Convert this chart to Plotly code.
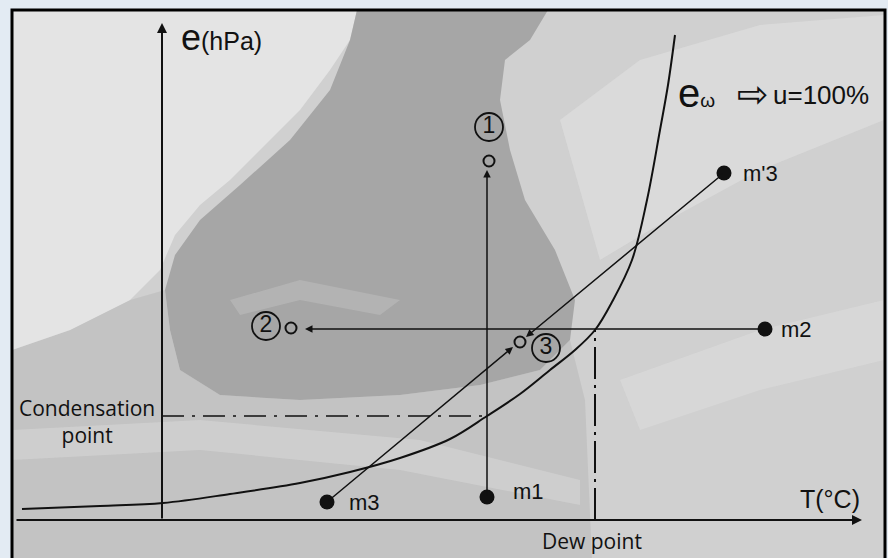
import plotly.graph_objects as go

# Saturation vapour pressure curve e_w (T, e) in diagram units (origin at axes crossing)
curve_T = [-140, -62, 1, 68, 138, 188, 238, 288, 325, 358, 388, 413, 433, 450, 470, 485, 498, 506, 513]
curve_e = [11, 14, 17, 26, 37, 48, 62, 81, 104, 126, 150, 170, 190, 218, 260, 320, 390, 435, 485]

# Air-mass states (filled dots)
state_names = ["m1", "m2", "m'3", "m3"]
state_T = [325, 603, 562, 165]
state_e = [23, 191, 347, 18]

# End states (open circles) and their circled labels
end_names = ["1", "2", "3"]
end_T = [327, 129, 358]
end_e = [359, 192, 178]
badge_T = [327, 104, 384]
badge_e = [393, 194, 172]

# Reference levels
condensation_e = 104
dew_T = 433
dew_e = 191

BLACK = "#111111"
FONT = "Liberation Sans, Arial, sans-serif"
HUM = "Open Sans, Noto Sans, sans-serif"

fig = go.Figure()

# ---- background (imitation of satellite picture) ----
shapes = []
X0, X1 = -150, 723   # frame in data units
Y0, Y1 = -40, 510
def px(x, y):
    return (x - 162, 520 - y)
def poly(points, color, opacity=1.0):
    pts = [px(x, y) for x, y in points]
    path = "M " + " L ".join(f"{a},{b}" for a, b in pts) + " Z"
    return dict(type="path", path=path, fillcolor=color, line=dict(width=0),
                layer="below", opacity=opacity)

shapes.append(dict(type="rect", x0=X0, x1=X1, y0=Y0, y1=Y1, fillcolor="#d0d0d0",
                   line=dict(width=0), layer="below"))
shapes.append(poly([(12, 350), (70, 330), (130, 300), (165, 290), (170, 330), (180, 370),
                    (220, 395), (300, 400), (400, 395), (480, 385), (540, 370), (570, 340),
                    (585, 400), (592, 560), (12, 560)], "#c3c3c3"))
shapes.append(poly([(12, 10), (357, 10), (350, 40), (330, 70), (300, 110), (270, 140),
                    (230, 180), (200, 205), (175, 235), (160, 270), (130, 300), (70, 330),
                    (12, 350)], "#e4e4e4"))
shapes.append(poly([(357, 10), (548, 10), (530, 40), (505, 60), (500, 100), (510, 150),
                    (525, 200), (555, 250), (575, 300), (570, 340), (540, 370), (480, 385),
                    (400, 395), (300, 400), (220, 395), (180, 370), (170, 330), (165, 290),
                    (175, 255), (200, 220), (240, 185), (290, 140), (330, 90), (350, 40)],
                   "#a6a6a6"))
shapes.append(poly([(560, 120), (640, 60), (760, 25), (884, 15), (884, 120), (760, 170),
                    (650, 230), (600, 260)], "#e2e2e2", 0.55))
shapes.append(poly([(620, 380), (760, 330), (884, 300), (884, 360), (760, 390), (640, 430)],
                   "#e0e0e0", 0.45))
shapes.append(poly([(12, 430), (200, 420), (420, 440), (580, 480), (580, 505), (400, 470),
                    (200, 450), (12, 460)], "#dadada", 0.5))
shapes.append(poly([(230, 300), (300, 280), (400, 300), (380, 315), (300, 300), (240, 315)],
                   "#bcbcbc", 0.6))
shapes.append(dict(type="rect", x0=X0, x1=X1, y0=Y0, y1=Y1, fillcolor="rgba(0,0,0,0)",
                   line=dict(color="#000000", width=3), layer="above"))

# condensation and dew point guide lines
fig.add_trace(go.Scatter(x=[0, state_T[0]], y=[condensation_e, condensation_e], mode="lines",
                         line=dict(color=BLACK, width=1.5, dash="22px,8px,3px,8px"),
                         hoverinfo="skip", showlegend=False))
fig.add_trace(go.Scatter(x=[dew_T, dew_T], y=[0, dew_e], mode="lines",
                         line=dict(color=BLACK, width=2, dash="32px,6px,3px,6px"),
                         hoverinfo="skip", showlegend=False))

# saturation curve
fig.add_trace(go.Scatter(x=curve_T, y=curve_e, mode="lines",
                         line=dict(color=BLACK, width=2, shape="spline"),
                         hoverinfo="skip", showlegend=False))

# state dots
fig.add_trace(go.Scatter(x=state_T, y=state_e, mode="markers",
                         marker=dict(color=BLACK, size=15), hoverinfo="skip", showlegend=False))
# open end circles
fig.add_trace(go.Scatter(x=end_T, y=end_e, mode="markers",
                         marker=dict(color="rgba(0,0,0,0)", size=11, line=dict(color=BLACK, width=2)),
                         hoverinfo="skip", showlegend=False))
# circled labels
fig.add_trace(go.Scatter(x=badge_T, y=badge_e, mode="markers+text", text=end_names,
                         textposition="middle center",
                         textfont=dict(family=FONT, size=23, color=BLACK),
                         marker=dict(color="rgba(0,0,0,0)", size=28, line=dict(color=BLACK, width=1.8)),
                         hoverinfo="skip", showlegend=False))

annotations = []
def arrow(x_tip, y_tip, x_tail, y_tail, w=1.5, head=2, size=1.0):
    annotations.append(dict(x=x_tip, y=y_tip, ax=x_tail, ay=y_tail, xref="x", yref="y",
                            axref="x", ayref="y", text="", showarrow=True, arrowhead=head,
                            arrowsize=size, arrowwidth=w, arrowcolor=BLACK))

# axes
arrow(700, 0, -147, 0, w=2, head=2, size=1.0)
arrow(0, 497, 0, 0, w=2, head=2, size=1.0)
# process arrows
arrow(state_T[0], 350, state_T[0], state_e[0])           # m1 -> 1
arrow(143, state_e[1], state_T[1], state_e[1])           # m2 -> 2
arrow(364, 183, state_T[2], state_e[2])                  # m'3 -> 3
arrow(351, 173, state_T[3], state_e[3])                  # m3 -> 3

def label(x, y, text, size=18, anchor="left", family=FONT):
    annotations.append(dict(x=x, y=y, xref="x", yref="y", text=text, showarrow=False,
                            xanchor=anchor, yanchor="middle",
                            font=dict(family=family, size=size, color=BLACK)))

label_gap = [24, 14, 17, 20]
label_lift = [6, 0, 0, 0]
for n, t, e, g, l in zip(state_names, state_T, state_e, label_gap, label_lift):
    label(t + g, e + l, n, size=22)

label(17, 483, "e<span style='font-size:25px'>(hPa)</span>", size=36)
label(514, 427, "e<span style='font-size:19px'>ω</span>", size=40)
label(573, 426, "⇨", size=38, family="DejaVu Sans, sans-serif")
label(609, 425, "u=100%", size=26)
label(668, 21, "T(°C)", size=25, anchor="center")
label(430, -21, "Dew point", size=21, anchor="center", family=HUM)
label(-75, 99, "Condensation<br>point", size=21, anchor="center", family=HUM)

fig.update_layout(
    width=888, height=558,
    margin=dict(l=0, r=0, t=0, b=0),
    paper_bgcolor="#e3ebf3", plot_bgcolor="rgba(0,0,0,0)",
    xaxis=dict(range=[-162, 726], visible=False, fixedrange=True),
    yaxis=dict(range=[-38, 520], visible=False, fixedrange=True),
    shapes=shapes, annotations=annotations, showlegend=False,
)

fig.write_html("out.html", config={"displayModeBar": False},
               post_script="document.body.style.margin='0';document.body.style.background='#e3ebf3';")
